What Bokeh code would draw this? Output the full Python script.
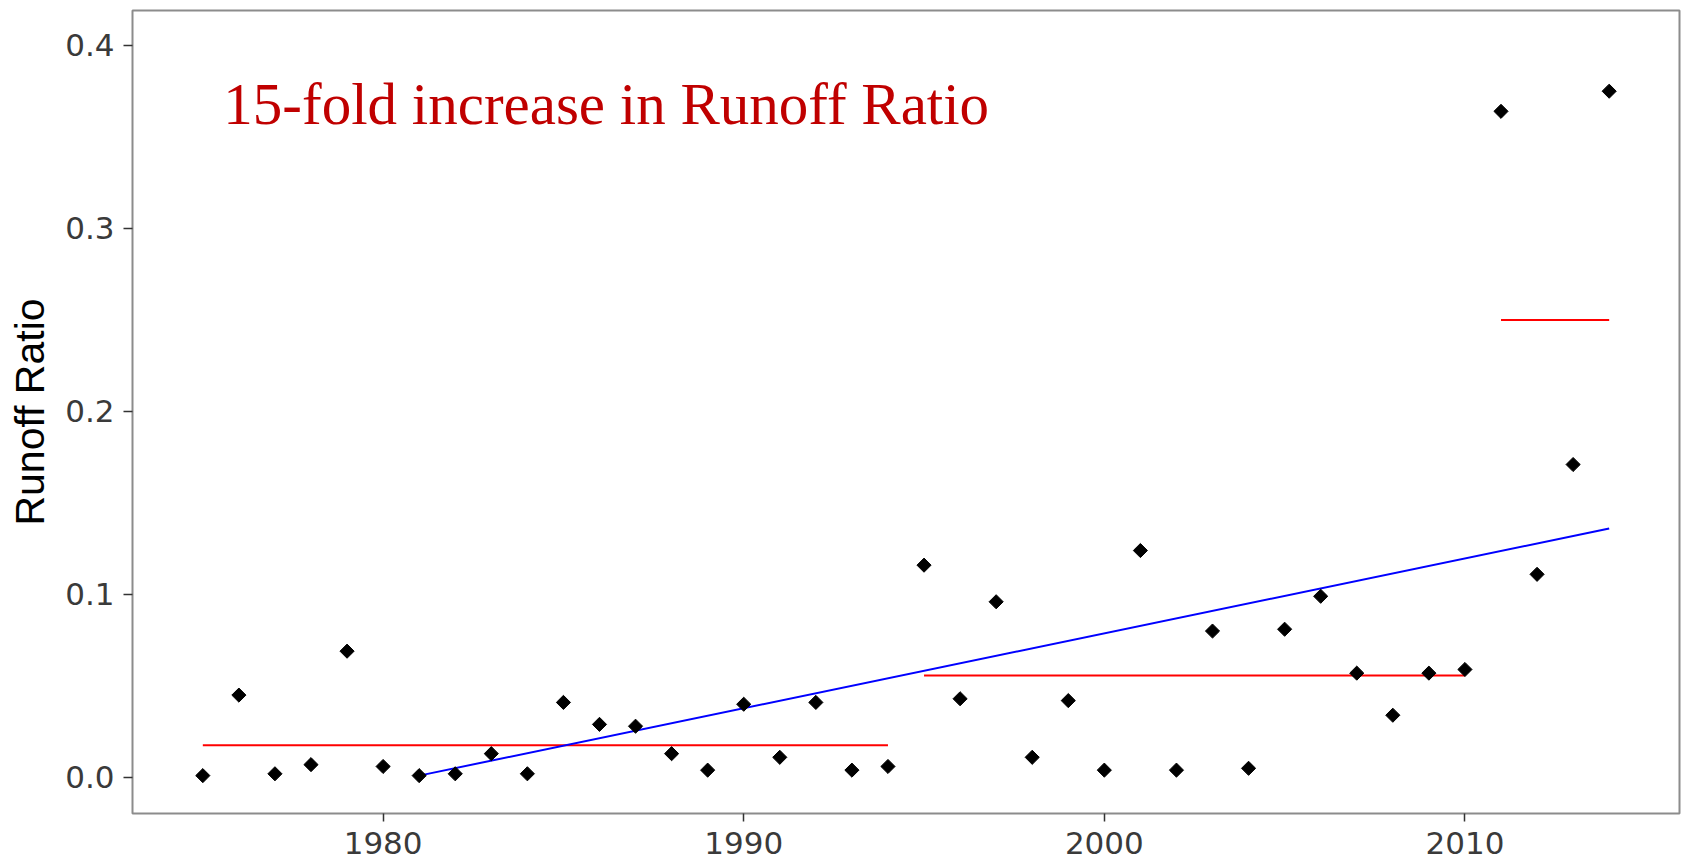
from bokeh.plotting import figure
from bokeh.models import Range1d, FixedTicker, NumeralTickFormatter, Label, ColumnDataSource
from bokeh.embed import file_html
from bokeh.resources import INLINE
import math

# ---- data ----
years = list(range(1975, 2015))
runoff_ratio = [0.001, 0.045, 0.002, 0.007, 0.069, 0.006, 0.001, 0.002, 0.013, 0.002,
                0.041, 0.029, 0.028, 0.013, 0.004, 0.040, 0.011, 0.041, 0.004, 0.006,
                0.116, 0.043, 0.096, 0.011, 0.042, 0.004, 0.124, 0.004, 0.080, 0.005,
                0.081, 0.099, 0.057, 0.034, 0.057, 0.059, 0.364, 0.111, 0.171, 0.375]

period_start = [1975, 1995, 2011]
period_end = [1994, 2010, 2014]
period_mean = [0.0176, 0.0557, 0.250]

trend_years = [1981, 2014]
trend_values = [0.001, 0.136]

x_ticks = [1980, 1990, 2000, 2010]
y_ticks = [0.0, 0.1, 0.2, 0.3, 0.4]

annotation_text = "15-fold increase in Runoff Ratio"
y_label = "Runoff Ratio"

# ---- figure ----
W, H = 1684, 861
p = figure(width=W, height=H, output_backend="svg", toolbar_location=None,
           x_range=Range1d(1973.05, 2015.95), y_range=Range1d(-0.0197, 0.4191))
p.min_border_left = 132
p.min_border_right = 5
p.min_border_top = 10
p.min_border_bottom = 48

p.background_fill_color = "white"
p.border_fill_color = "white"
p.outline_line_color = "#8c8c8c"
p.outline_line_width = 2

p.xgrid.visible = False
p.ygrid.visible = False

for ax in (p.xaxis[0], p.yaxis[0]):
    ax.axis_line_color = None
    ax.major_tick_line_color = "#333333"
    ax.major_tick_line_width = 1.5
    ax.major_tick_in = 0
    ax.minor_tick_line_color = None
    ax.major_label_text_font = "DejaVu Sans"
    ax.major_label_text_font_size = "31px"
    ax.major_label_text_color = "#3a3a3a"

p.xaxis.major_tick_out = 8
p.yaxis.major_tick_out = 9
p.xaxis.ticker = FixedTicker(ticks=x_ticks)
p.yaxis.ticker = FixedTicker(ticks=y_ticks)
p.yaxis.formatter = NumeralTickFormatter(format="0.0")
p.xaxis.major_label_standoff = 10
p.xaxis.major_label_text_line_height = 0.9
p.yaxis.major_label_standoff = 9

p.yaxis.axis_label = y_label
p.yaxis.axis_label_text_font = "Liberation Sans"
p.yaxis.axis_label_text_font_style = "normal"
p.yaxis.axis_label_text_font_size = "41px"
p.yaxis.axis_label_text_color = "black"
p.yaxis.axis_label_standoff = 9

# period means (red)
for xs, xe, m in zip(period_start, period_end, period_mean):
    p.line([xs, xe], [m, m], line_color="#ff0000", line_width=2)

# trend (blue)
p.line(trend_years, trend_values, line_color="#0000ff", line_width=2)

# points
src = ColumnDataSource(dict(x=years, y=runoff_ratio))
p.scatter("x", "y", source=src, marker="square", size=10, angle=math.pi / 4,
          fill_color="black", line_color="black")

lab = Label(x=1975.57, y=0.368, text=annotation_text, text_font="Liberation Serif",
            text_font_size="59px", text_color="#c00000", text_baseline="alphabetic")
p.add_layout(lab)

open("out.html", "w").write(file_html(p, INLINE))
